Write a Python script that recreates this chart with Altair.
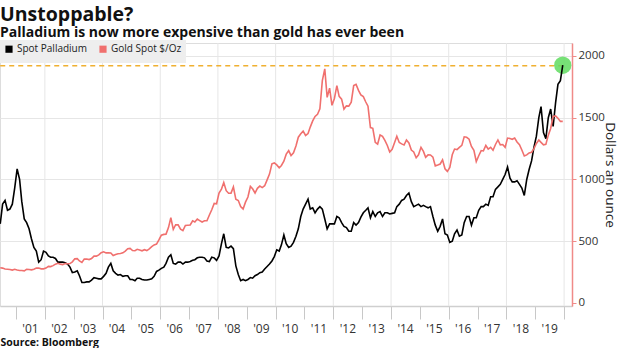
import altair as alt
import pandas as pd

# ---------------- data (monthly) ----------------
first_month = "2000-06"

palladium = [
    # 2000 Jun-Dec
    640, 800, 830, 750, 760, 800, 930,
    # 2001
    1085, 1000, 820, 680, 650, 600, 520, 450, 420, 330, 350, 420,
    # 2002
    410, 380, 370, 370, 360, 330, 330, 330, 325, 315, 290, 245,
    # 2003
    250, 260, 220, 165, 165, 170, 170, 185, 205, 200, 195, 195,
    # 2004
    215, 240, 290, 320, 260, 240, 225, 230, 215, 220, 220, 190,
    # 2005
    190, 180, 200, 200, 190, 185, 185, 190, 195, 215, 255, 265,
    # 2006
    280, 290, 320, 370, 390, 320, 315, 330, 330, 315, 330, 330,
    # 2007
    335, 345, 350, 365, 370, 370, 365, 340, 335, 370, 365, 345,
    # 2008
    380, 480, 560, 450, 445, 460, 440, 300, 230, 180, 190, 180,
    # 2009
    190, 205, 200, 220, 230, 245, 250, 275, 295, 315, 340, 375,
    # 2010
    430, 420, 470, 550, 480, 450, 460, 490, 540, 600, 700, 760,
    # 2011
    800, 840, 760, 770, 730, 760, 780, 760, 680, 600, 640, 640,
    # 2012
    640, 700, 690, 650, 620, 610, 580, 580, 650, 630, 650, 695,
    # 2013
    730, 750, 770, 690, 740, 700, 730, 740, 700, 730, 730, 720,
    # 2014
    725, 730, 780, 800, 830, 840, 870, 890, 820, 780, 790, 800,
    # 2015
    780, 790, 780, 770, 780, 700, 630, 580, 620, 680, 560, 550,
    # 2016
    490, 500, 560, 590, 540, 550, 650, 700, 700, 630, 690, 690,
    # 2017
    750, 780, 780, 800, 790, 860, 860, 920, 940, 960, 1000, 1040,
    # 2018
    1100, 1010, 980, 980, 990, 960, 930, 870, 1000, 1080, 1150, 1260,
    # 2019
    1350, 1500, 1590, 1380, 1330, 1500, 1570, 1430, 1620, 1770, 1800, 1925,
]

gold = [
    # 2000 Jun-Dec
    285, 282, 275, 273, 270, 266, 272,
    # 2001
    266, 262, 263, 260, 272, 270, 268, 273, 283, 282, 276, 276,
    # 2002
    282, 296, 294, 302, 314, 321, 314, 310, 319, 317, 319, 333,
    # 2003
    357, 359, 340, 328, 355, 356, 351, 360, 379, 379, 389, 407,
    # 2004
    414, 405, 406, 404, 384, 392, 398, 400, 406, 420, 439, 442,
    # 2005
    424, 423, 434, 429, 422, 431, 424, 438, 456, 470, 476, 510,
    # 2006
    549, 555, 557, 610, 690, 596, 633, 632, 598, 585, 627, 629,
    # 2007
    631, 665, 655, 679, 667, 655, 665, 665, 712, 754, 806, 803,
    # 2008
    889, 922, 975, 909, 888, 889, 939, 839, 829, 780, 760, 816,
    # 2009
    858, 943, 924, 890, 928, 946, 934, 949, 996, 1043, 1127, 1134,
    # 2010
    1118, 1095, 1113, 1148, 1205, 1233, 1193, 1215, 1271, 1342, 1370, 1391,
    # 2011
    1356, 1372, 1424, 1474, 1510, 1528, 1572, 1800, 1895, 1665, 1739, 1600,
    # 2012
    1656, 1760, 1673, 1650, 1570, 1596, 1594, 1626, 1760, 1770, 1721, 1685,
    # 2013
    1671, 1627, 1593, 1420, 1414, 1300, 1286, 1360, 1349, 1316, 1275, 1222,
    # 2014
    1244, 1300, 1350, 1299, 1288, 1279, 1320, 1296, 1238, 1223, 1176, 1200,
    # 2015
    1260, 1227, 1179, 1199, 1198, 1181, 1110, 1117, 1125, 1159, 1086, 1065,
    # 2016
    1097, 1200, 1246, 1242, 1260, 1276, 1345, 1341, 1326, 1267, 1236, 1145,
    # 2017
    1192, 1234, 1231, 1275, 1246, 1260, 1236, 1283, 1320, 1280, 1283, 1260,
    # 2018
    1335, 1331, 1325, 1335, 1303, 1282, 1238, 1190, 1199, 1215, 1220, 1250,
    # 2019
    1291, 1320, 1300, 1280, 1284, 1359, 1413, 1510, 1515, 1495, 1470, 1470,
]

series_names = ["Spot Palladium", "Gold Spot $/Oz"]
series_colors = ["#000000", "#f0706e"]
gold_record = 1921
year_ticks = list(range(2001, 2021))
grid_years = [2002, 2004, 2006, 2008, 2010, 2012, 2014, 2016, 2018, 2020]
y_ticks = [0, 500, 1000, 1500, 2000]

# ---------------- tables ----------------
n = len(palladium)
dates = (pd.period_range(first_month, periods=n, freq="M").to_timestamp()
         + pd.Timedelta(days=14)).strftime("%Y-%m-%d").tolist()

df = pd.DataFrame({
    "date": dates + dates,
    "value": palladium + gold,
    "series": [series_names[0]] * n + [series_names[1]] * n,
})
last = df.iloc[[n - 1]]
record_df = pd.DataFrame({"start": [dates[0]], "end": [dates[-1]], "level": [gold_record]})
grid_df = pd.DataFrame({"year": [f"{y}-01-01" for y in grid_years]})

FONT = "Open Sans"
x_start = alt.DateTime(year=2000, month=6, date=12, utc=True)
x_end = alt.DateTime(year=2020, month=4, date=10, utc=True)

x_scale = alt.Scale(type="utc", domain=[x_start, x_end])
y_scale = alt.Scale(domain=[-25, 2105], nice=False, zero=False)

x_axis = alt.Axis(
    values=[alt.DateTime(year=y, month=1, date=1, utc=True) for y in year_ticks],
    tickCount=40,
    labelExpr="utcyear(datum.value) >= 2020 ? '' : \"'\" + utcFormat(datum.value, '%y')",
    labelOffset=14,
    labelPadding=4,
    labelFont=FONT, labelFontSize=12, labelColor="#333333",
    labelOverlap=False, labelFlush=False, labelBound=False,
    tickSize=13, tickColor="#c8c8c8", tickWidth=1,
    domainColor="#cfcfcf", domainWidth=1.5,
    grid=False,
    title="Source: Bloomberg",
    titleFont=FONT, titleFontSize=10.5, titleFontWeight="bold", titleColor="#111111",
    titleAnchor="start", titleAlign="left", titleX=0, titleY=36, titleBaseline="middle",
)

y_axis = alt.Axis(
    orient="right",
    values=y_ticks,
    tickCount=10,
    format="d",
    labelFont=FONT, labelFontSize=11.5, labelColor="#333333", labelPadding=2,
    tickSize=4, tickColor="#f08a88", domainColor="#f08a88", domainWidth=1.5,
    grid=True,
    gridColor={"condition": {"test": "datum.value > 0", "value": "#e6e6e6"},
               "value": "rgba(0,0,0,0)"},
    title="Dollars an ounce",
    titleFont=FONT, titleFontSize=13.5, titleFontWeight="normal", titleColor="#222222",
    titleAngle=90, titlePadding=-2,
)

color = alt.Color(
    "series:N",
    scale=alt.Scale(domain=series_names, range=series_colors),
    legend=alt.Legend(
        orient="none", legendX=0, legendY=-3, direction="horizontal", title=None,
        symbolType="square", symbolSize=10, symbolStrokeWidth=4,
        labelFont=FONT, labelFontSize=10, labelColor="#222222", labelOffset=3,
        fillColor="#eeeeee", padding=4, columnPadding=6,
    ),
)

grid = alt.Chart(grid_df).mark_rule(color="#e6e6e6", strokeWidth=1).encode(
    x=alt.X("year:T"),
)

lines = alt.Chart(df).mark_line(strokeWidth=1.6).encode(
    x=alt.X("date:T", scale=x_scale, axis=x_axis),
    y=alt.Y("value:Q", scale=y_scale, axis=y_axis),
    color=color,
)

record = alt.Chart(record_df).mark_rule(
    color="#f0b030", strokeDash=[5, 4], strokeWidth=1.5
).encode(
    x=alt.X("start:T"),
    x2=alt.X2("end"),
    y=alt.Y("level:Q"),
)

dot = alt.Chart(last).mark_circle(size=300, color="#5fdc5f", opacity=0.85).encode(
    x=alt.X("date:T"),
    y=alt.Y("value:Q"),
)

chart = alt.layer(grid, record, dot, lines).properties(
    width=572,
    height=263,
    padding={"left": 0, "top": 43, "right": 48, "bottom": 42},
    autosize=alt.AutoSizeParams(type="none"),
    title=alt.TitleParams(
        text="Unstoppable?",
        subtitle="Palladium is now more expensive than gold has ever been",
        anchor="start", frame="group", orient="top",
        font=FONT, fontSize=19.5, fontWeight="bold", color="#111111",
        subtitleFont=FONT, subtitleFontSize=14, subtitleFontWeight="bold",
        subtitleColor="#111111", subtitlePadding=1, offset=-1,
    ),
).configure_view(stroke=None).configure(background="white")

chart.save("out.html", embed_options={"renderer": "svg", "actions": False})
